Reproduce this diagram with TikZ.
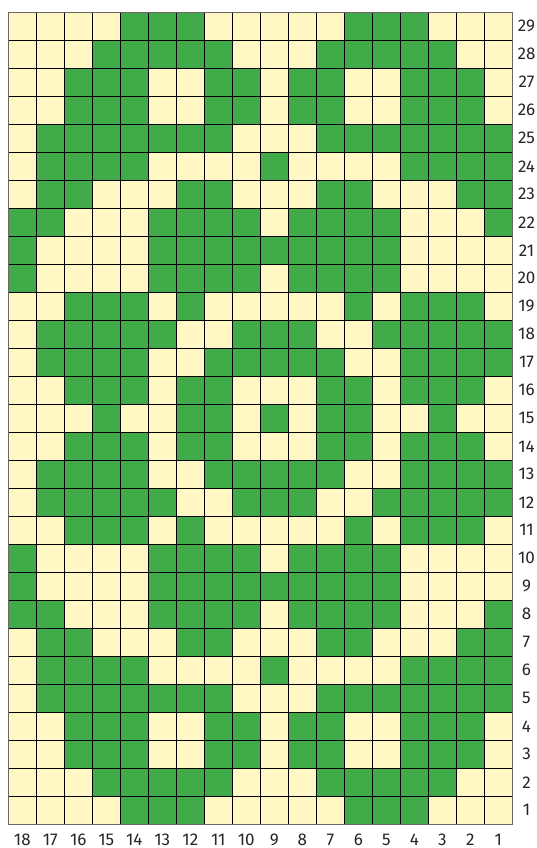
\documentclass[tikz,border=0pt]{standalone}
\usepackage{fontspec}
\setmainfont{Fira Sans}
\definecolor{gcol}{RGB}{66,171,73}
\definecolor{ycol}{RGB}{255,248,196}
\definecolor{bcol}{RGB}{105,105,95}
\newcommand\greenrow[2]{\foreach \i in {#2}{\fill[gcol] ({8.3+28*\i},{12.3+28*(29-#1)}) rectangle ++(28,28);}}
\begin{document}
\begin{tikzpicture}[x=1pt,y=-1pt,
  lbl/.style={inner sep=0pt,font=\fontsize{17}{18}\selectfont,text=black!85}]
\useasboundingbox[fill=white] (0,0) rectangle (536,848);
\fill[ycol] (8.3,12.3) rectangle (512.3,824.3);
\greenrow{29}{4,5,6,12,13,14}
\greenrow{28}{3,4,5,6,7,11,12,13,14,15}
\greenrow{27}{2,3,4,7,8,10,11,14,15,16}
\greenrow{26}{2,3,4,7,8,10,11,14,15,16}
\greenrow{25}{1,2,3,4,5,6,7,11,12,13,14,15,16,17}
\greenrow{24}{1,2,3,4,9,14,15,16,17}
\greenrow{23}{1,2,6,7,11,12,16,17}
\greenrow{22}{0,1,5,6,7,8,10,11,12,13,17}
\greenrow{21}{0,5,6,7,8,9,10,11,12,13}
\greenrow{20}{0,5,6,7,8,10,11,12,13}
\greenrow{19}{2,3,4,6,12,14,15,16}
\greenrow{18}{1,2,3,4,5,8,9,10,13,14,15,16,17}
\greenrow{17}{1,2,3,4,7,8,9,10,11,14,15,16,17}
\greenrow{16}{2,3,4,6,7,11,12,14,15,16}
\greenrow{15}{3,6,7,9,11,12,15}
\greenrow{14}{2,3,4,6,7,11,12,14,15,16}
\greenrow{13}{1,2,3,4,7,8,9,10,11,14,15,16,17}
\greenrow{12}{1,2,3,4,5,8,9,10,13,14,15,16,17}
\greenrow{11}{2,3,4,6,12,14,15,16}
\greenrow{10}{0,5,6,7,8,10,11,12,13}
\greenrow{9}{0,5,6,7,8,9,10,11,12,13}
\greenrow{8}{0,1,5,6,7,8,10,11,12,13,17}
\greenrow{7}{1,2,6,7,11,12,16,17}
\greenrow{6}{1,2,3,4,9,14,15,16,17}
\greenrow{5}{1,2,3,4,5,6,7,11,12,13,14,15,16,17}
\greenrow{4}{2,3,4,7,8,10,11,14,15,16}
\greenrow{3}{2,3,4,7,8,10,11,14,15,16}
\greenrow{2}{3,4,5,6,7,11,12,13,14,15}
\greenrow{1}{4,5,6,12,13,14}
\foreach \i in {1,...,17}{\draw[line width=0.8pt] ({8.3+28*\i},12.3) -- ({8.3+28*\i},824.3);}
\foreach \j in {1,...,28}{\draw[line width=0.8pt] (8.3,{12.3+28*\j}) -- (512.3,{12.3+28*\j});}
\draw[bcol,line width=0.8pt] (8.3,12.3) rectangle (512.3,824.3);
\foreach \r in {1,...,29}{\node[lbl] (r\r) at (526.5,{12.3+28*(29-\r)+14}) {\r};}
\foreach \c in {1,...,18}{\node[lbl] (c\c) at ({8.3+28*(18-\c)+14},839.5) {\c};}
\end{tikzpicture}
\end{document}
